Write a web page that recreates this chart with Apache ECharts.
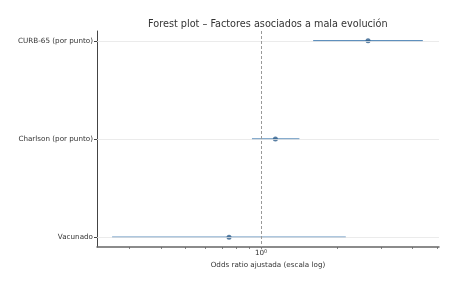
<!DOCTYPE html>
<html><head><meta charset="utf-8">
<script src="https://cdn.jsdelivr.net/npm/echarts@6/dist/echarts.min.js"></script>
<style>html,body{margin:0;padding:0;background:#fff}#c{width:461px;height:288px}</style>
</head><body><div id="c"></div>
<script>
const categories = ['CURB-65 (por punto)', 'Charlson (por punto)', 'Vacunado'];
const orValues = [2.66, 1.14, 0.746];
const ciLow = [1.61, 0.92, 0.256];
const ciHigh = [4.39, 1.42, 2.17];
const xTickLabels = [1];
const xMinorTicks = [0.3, 0.4, 0.5, 0.6, 0.7, 0.8, 0.9, 1, 2, 3, 4, 5];

const font = 'DejaVu Sans';
const chart = echarts.init(document.getElementById('c'), null, {renderer: 'canvas'});
const idx = categories.map((_, i) => i);
chart.setOption({
  animation: false,
  title: {
    text: 'Forest plot – Factores asociados a mala evolución',
    left: 143, top: 14,
    textStyle: {fontFamily: font, fontSize: 9.7, fontWeight: 'normal', color: '#333'}
  },
  grid: {left: 97, right: 22, top: 31, bottom: 41},
  xAxis: {
    type: 'log', logBase: 10, min: 0.223, max: 5.09,
    name: 'Odds ratio ajustada (escala log)', nameLocation: 'middle', nameGap: 10,
    nameTextStyle: {fontFamily: font, fontSize: 7.2, color: '#333'},
    axisLine: {onZero: false, lineStyle: {color: '#666', width: 1.5}},
    axisTick: {customValues: xMinorTicks, length: 2, lineStyle: {color: '#666', width: 0.8}},
    axisLabel: {
      customValues: xTickLabels, margin: 2,
      formatter: () => '{b|10}{s|0}',
      rich: {
        b: {fontFamily: font, fontSize: 7.2, color: '#333'},
        s: {fontFamily: font, fontSize: 5, color: '#333', padding: [0, 0, 4, 0]}
      }
    },
    splitLine: {show: false}
  },
  yAxis: {
    type: 'value', min: -0.1, max: 2.1, inverse: true,
    axisLine: {show: true, onZero: false, lineStyle: {color: '#444', width: 1}},
    axisTick: {show: true, customValues: idx, length: 3, lineStyle: {color: '#444'}},
    axisLabel: {
      customValues: idx, margin: 4,
      formatter: v => categories[Math.round(v)],
      fontFamily: font, fontSize: 7.2, color: '#333'
    },
    splitLine: {show: false}
  },
  series: [
    {
      type: 'custom',
      data: idx.map(i => [ciLow[i], ciHigh[i], i]),
      encode: {x: [0, 1], y: 2},
      renderItem: (params, api) => {
        const a = api.coord([api.value(0), api.value(2)]);
        const b = api.coord([api.value(1), api.value(2)]);
        return {type: 'line', shape: {x1: a[0], y1: a[1], x2: b[0], y2: b[1]},
          style: {stroke: '#5f90bd', lineWidth: 1.5}};
      },
      markLine: {
        silent: true, symbol: 'none', label: {show: false},
        data: idx.map(i => ({yAxis: i, lineStyle: {color: '#e6e6e6', type: 'solid', width: 0.8}}))
          .concat([{xAxis: 1, lineStyle: {color: '#999', type: [3, 2], width: 1}}])
      },
      z: 2
    },
    {
      type: 'scatter',
      data: idx.map(i => [orValues[i], i]),
      symbol: 'circle', symbolSize: 5,
      itemStyle: {color: '#2f5f8c'},
      z: 3
    }
  ]
});
</script></body></html>
